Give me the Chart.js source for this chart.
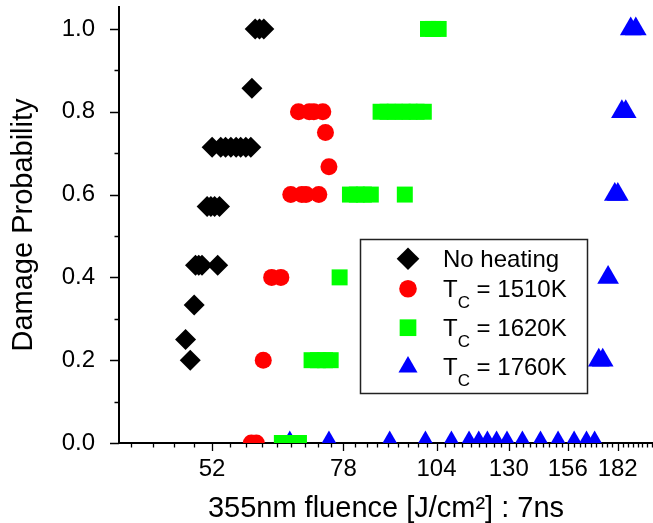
<!DOCTYPE html>
<html>
<head>
<meta charset="utf-8">
<script src="https://cdn.jsdelivr.net/npm/chart.js@4.4.1/dist/chart.umd.min.js"></script>
<style>
  html, body { margin: 0; padding: 0; background: #fff; }
  #wrap { width: 653px; height: 523px; }
</style>
</head>
<body>
<div id="wrap"><canvas id="chart" width="653" height="523"></canvas></div>
<script>
const FONT = '"Liberation Sans", Arial, sans-serif';

// axis ticks
const xTicks = [52, 78, 104, 130, 156, 182];
const yTicks = [0, 0.2, 0.4, 0.6, 0.8, 1.0];

// No heating
const noHeatX = [59.4, 60.2, 61.0, 58.8,
  52.0, 53.4, 54.2, 55.1, 56.0, 56.8, 57.7, 58.6,
  51.2, 51.8, 52.4, 53.2,
  49.4, 49.9, 50.4, 52.9,
  49.2, 47.9, 48.6];
const noHeatY = [1, 1, 1, 0.857,
  0.714, 0.714, 0.714, 0.714, 0.714, 0.714, 0.714, 0.714,
  0.571, 0.571, 0.571, 0.571,
  0.429, 0.429, 0.429, 0.429,
  0.333, 0.25, 0.2];

// Tc = 1510K
const tc1510X = [67.9, 70.2, 71.2, 73.2, 73.8, 74.6, 66.3, 68.6, 69.5, 72.3, 62.5, 64.3, 60.9, 58.7, 59.6];
const tc1510Y = [0.8, 0.8, 0.8, 0.8, 0.75, 0.667, 0.6, 0.6, 0.6, 0.6, 0.4, 0.4, 0.2, 0, 0];

// Tc = 1620K
const tc1620X = [101.3, 102.9, 104.7,
  87.5, 89.4, 91.4, 93.7, 95.7, 97.8, 100.0,
  79.6, 81.3, 83.1, 84.9, 94.3,
  77.1,
  70.7, 72.1, 73.7, 75.0,
  64.5, 66.1, 68.0];
const tc1620Y = [1, 1, 1,
  0.8, 0.8, 0.8, 0.8, 0.8, 0.8, 0.8,
  0.6, 0.6, 0.6, 0.6, 0.6,
  0.4,
  0.2, 0.2, 0.2, 0.2,
  0, 0, 0];

// Tc = 1760K
const tc1760X = [189.5, 192.5, 184.4, 186.6, 180.4, 182.1, 176.7, 171.7, 173.8,
  66.1, 74.6, 90.0, 100.5, 108.9, 115.0, 118.5, 121.7, 125.2, 129.3, 135.6, 143.4, 151.4, 159.1, 165.3, 169.5];
const tc1760Y = [1, 1, 0.8, 0.8, 0.6, 0.6, 0.4, 0.2, 0.2,
  0, 0, 0, 0, 0, 0, 0, 0, 0, 0, 0, 0, 0, 0, 0, 0];

// legend texts: [main, subscript, rest]
const legendTexts = [
  ["No heating", "", ""],
  ["T", "C", " = 1510K"],
  ["T", "C", " = 1620K"],
  ["T", "C", " = 1760K"]
];

const toPoints = (xs, ys) => xs.map((x, i) => ({ x: x, y: ys[i] }));

const styles = [
  { pointStyle: "rectRot", radius: 10.5, color: "#000000", legendR: 11.3 },
  { pointStyle: "circle", radius: 8.5, color: "#ff0000", legendR: 8.8 },
  { pointStyle: "rect", radius: 11.3, color: "#00ff00", legendR: 11.8 },
  { pointStyle: "triangle", radius: 12.5, color: "#0000ff", legendR: 11 }
];
const series = [
  toPoints(noHeatX, noHeatY),
  toPoints(tc1510X, tc1510Y),
  toPoints(tc1620X, tc1620Y),
  toPoints(tc1760X, tc1760Y)
];

// minor + major tick marks drawn outward
const tickMarks = {
  id: "tickMarks",
  afterDraw(chart) {
    const { ctx, chartArea } = chart;
    const x = chart.scales.x, y = chart.scales.y;
    ctx.save();
    ctx.strokeStyle = "#000";
    ctx.lineWidth = 1.3;
    ctx.beginPath();
    const step = (xTicks[1] - xTicks[0]) / 9;
    for (let k = -20; k < 80; k++) {
      const v = xTicks[0] + k * step;
      if (v <= x.min || v >= x.max) continue;
      const px = Math.round(x.getPixelForValue(v)) + 0.5;
      const len = k % 9 === 0 ? 8 : 4.5;
      ctx.moveTo(px, chartArea.bottom);
      ctx.lineTo(px, chartArea.bottom + len);
    }
    for (let v = 0; v <= y.max + 1e-9; v += 0.1) {
      const py = Math.round(y.getPixelForValue(v)) + 0.5;
      const major = Math.round(v * 10) % 2 === 0;
      ctx.moveTo(chartArea.left, py);
      ctx.lineTo(chartArea.left - (major ? 9 : 4.5), py);
    }
    ctx.stroke();
    ctx.restore();
  }
};

const boxLegend = {
  id: "boxLegend",
  afterDraw(chart) {
    const ctx = chart.ctx;
    ctx.save();
    ctx.fillStyle = "#fff";
    ctx.strokeStyle = "#222";
    ctx.lineWidth = 1.5;
    ctx.fillRect(360.5, 239.5, 227, 154);
    ctx.strokeRect(360.5, 239.5, 227, 154);
    const symY = [258.8, 288.8, 327.7, 367];
    const baseY = [266.5, 297, 336, 375];
    legendTexts.forEach((t, i) => {
      const st = styles[i];
      ctx.fillStyle = st.color;
      Chart.helpers.drawPoint(ctx, { pointStyle: st.pointStyle, radius: st.legendR, rotation: 0, borderWidth: 0 }, 408, symY[i]);
      ctx.fillStyle = "#000";
      ctx.textBaseline = "alphabetic";
      ctx.textAlign = "left";
      ctx.font = "24px " + FONT;
      let tx = 443;
      ctx.fillText(t[0], tx, baseY[i]);
      tx += ctx.measureText(t[0]).width;
      if (t[1]) {
        ctx.font = "17px " + FONT;
        ctx.fillText(t[1], tx, baseY[i] + 10.5);
        tx += ctx.measureText(t[1]).width;
        ctx.font = "24px " + FONT;
        ctx.fillText(t[2], tx, baseY[i]);
      }
    });
    ctx.restore();
  }
};

new Chart(document.getElementById("chart"), {
  type: "scatter",
  data: {
    datasets: series.map((pts, i) => ({
      label: legendTexts[i].join(""),
      data: pts,
      pointStyle: styles[i].pointStyle,
      pointRadius: styles[i].radius,
      pointBackgroundColor: styles[i].color,
      pointBorderWidth: 0,
      clip: 0
    }))
  },
  options: {
    responsive: false,
    animation: false,
    layout: { autoPadding: false, padding: { top: 7, left: 0, right: 0, bottom: 0 } },
    plugins: { legend: { display: false }, tooltip: { enabled: false } },
    scales: {
      x: {
        type: "logarithmic",
        min: 39,
        max: 203,
        afterBuildTicks: (s) => { s.ticks = xTicks.map(v => ({ value: v })); },
        afterFit: (s) => { s.height = 80; s.paddingLeft = 0; s.paddingRight = 0; },
        grid: { drawOnChartArea: false, drawTicks: false },
        border: { display: true, color: "#000", width: 2 },
        ticks: {
          autoSkip: false, maxRotation: 0, padding: 12, color: "#000",
          font: { family: FONT, size: 24 },
          callback: (v) => String(v)
        },
        title: {
          display: true, text: "355nm fluence [J/cm²] : 7ns", color: "#000",
          font: { family: FONT, size: 29, lineHeight: 1 },
          padding: { top: 0, bottom: 0 }
        }
      },
      y: {
        type: "linear",
        min: 0,
        max: 1.053,
        afterBuildTicks: (s) => { s.ticks = yTicks.map(v => ({ value: v })); },
        afterFit: (s) => { s.width = 119; s.paddingTop = 0; s.paddingBottom = 0; },
        grid: { drawOnChartArea: false, drawTicks: false },
        border: { display: true, color: "#000", width: 2 },
        ticks: {
          padding: 24, color: "#000",
          font: { family: FONT, size: 24 },
          callback: (v) => Number(v).toFixed(1)
        },
        title: {
          display: true, text: "Damage Probability", color: "#000",
          font: { family: FONT, size: 29, lineHeight: 1 },
          padding: { top: 9.5, bottom: 0 }
        }
      }
    }
  },
  plugins: [tickMarks, boxLegend]
});
</script>
</body>
</html>
